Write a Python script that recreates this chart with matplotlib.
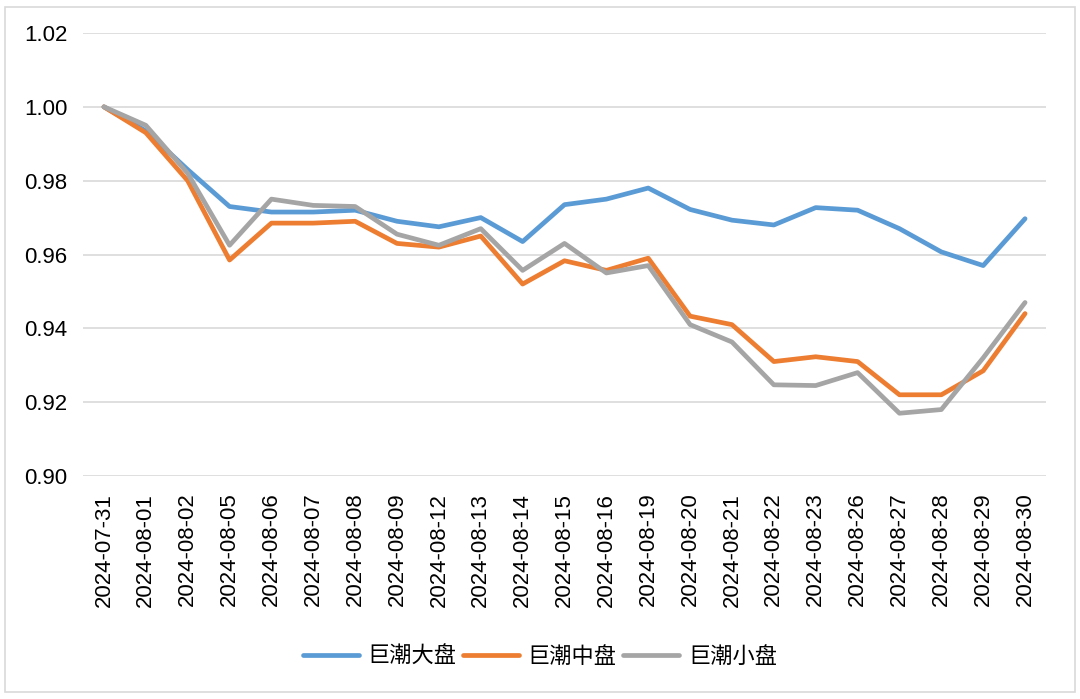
import matplotlib.pyplot as plt
from matplotlib.patches import Rectangle

plt.rcParams['font.family'] = ['Liberation Sans', 'Noto Sans CJK SC']

dates = ['2024-07-31', '2024-08-01', '2024-08-02', '2024-08-05', '2024-08-06',
         '2024-08-07', '2024-08-08', '2024-08-09', '2024-08-12', '2024-08-13',
         '2024-08-14', '2024-08-15', '2024-08-16', '2024-08-19', '2024-08-20',
         '2024-08-21', '2024-08-22', '2024-08-23', '2024-08-26', '2024-08-27',
         '2024-08-28', '2024-08-29', '2024-08-30']

large = [1.000, 0.9935, 0.983, 0.973, 0.9715, 0.9715, 0.972, 0.969, 0.9675,
         0.970, 0.9635, 0.9735, 0.975, 0.978, 0.9722, 0.9693, 0.968, 0.9727,
         0.972, 0.967, 0.9607, 0.957, 0.9697]
mid = [1.000, 0.993, 0.980, 0.9585, 0.9685, 0.9685, 0.969, 0.963, 0.962,
       0.965, 0.952, 0.9583, 0.9557, 0.959, 0.9433, 0.941, 0.931, 0.9323,
       0.931, 0.922, 0.922, 0.9285, 0.944]
small = [1.000, 0.995, 0.982, 0.9625, 0.975, 0.9733, 0.973, 0.9655, 0.9625,
         0.967, 0.9557, 0.963, 0.955, 0.957, 0.941, 0.9363, 0.9247, 0.9245,
         0.928, 0.917, 0.918, 0.932, 0.947]

names = ['巨潮大盘', '巨潮中盘', '巨潮小盘']
colors = ['#5B9BD5', '#ED7D31', '#A5A5A5']

fig = plt.figure(figsize=(10.8, 6.99), dpi=100)
# outer chart border
fig.patches.append(Rectangle((5 / 1080, 7 / 699), 1070 / 1080, 685 / 699,
                             transform=fig.transFigure, fill=False,
                             edgecolor='#D9D9D9', linewidth=1.2))

ax = fig.add_axes([83 / 1080, 1 - 476 / 699, (1046 - 83) / 1080, (476 - 33) / 699])
x = range(len(dates))
for vals, name, c in zip([large, mid, small], names, colors):
    ax.plot(x, vals, color=c, linewidth=3.4, label=name, solid_capstyle='round',
            solid_joinstyle='round')

ax.set_xlim(-0.5, len(dates) - 0.5)
ax.set_ylim(0.90, 1.02)
ax.set_yticks([0.90, 0.92, 0.94, 0.96, 0.98, 1.00, 1.02])
ax.set_yticklabels(['%.2f' % v for v in ax.get_yticks()], fontsize=16)
ax.set_xticks(list(x))
ax.set_xticklabels(dates, rotation=90, fontsize=16)
ax.tick_params(length=0, colors='#000000')
ax.tick_params(axis='y', pad=11)
ax.tick_params(axis='x', pad=12)
ax.grid(axis='y', color='#D9D9D9', linewidth=1.2)
ax.set_axisbelow(True)
for s in ax.spines.values():
    s.set_visible(False)

fig.legend(loc='center', bbox_to_anchor=(540 / 1080, 1 - 657 / 699), ncol=3,
           frameon=False, fontsize=16, handlelength=2.5, handletextpad=0.4,
           columnspacing=0.3)

fig.savefig('out.png', dpi=100)
